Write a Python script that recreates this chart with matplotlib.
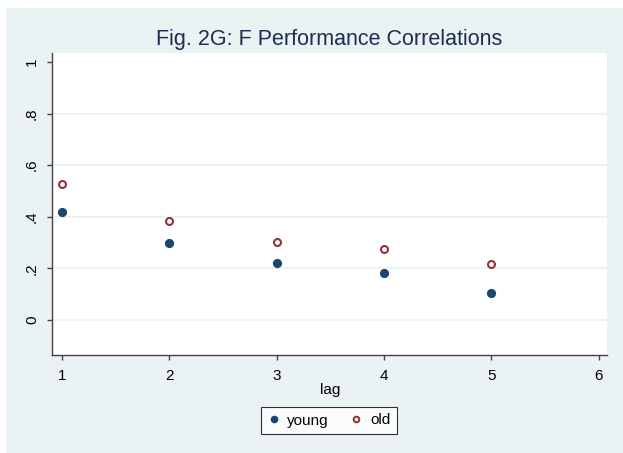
import matplotlib
matplotlib.use("Agg")
import matplotlib.pyplot as plt
from matplotlib.patches import Rectangle

plt.rcParams['font.family'] = ['Liberation Sans', 'DejaVu Sans']

# data
lag = [1, 2, 3, 4, 5]
young = [0.420, 0.297, 0.220, 0.182, 0.106]
old = [0.527, 0.383, 0.303, 0.276, 0.218]
yticks = [0, 0.2, 0.4, 0.6, 0.8, 1]
ytick_labels = ['0', '.2', '.4', '.6', '.8', '1']
xticks = [1, 2, 3, 4, 5, 6]

W, H = 623, 453
navy = '#1a476f'
maroon = '#90353b'
bg = '#eaf2f3'

fig = plt.figure(figsize=(W / 100, H / 100), dpi=100, facecolor='white')
# stata-like outer panel
fig.patches.append(Rectangle((6 / W, 0), 1, (H - 8) / H, transform=fig.transFigure,
                             facecolor=bg, edgecolor='none', zorder=-10))

ax = fig.add_axes([51.7 / W, (H - 355) / H, (607.3 - 51.7) / W, (355 - 52.7) / H])
ax.set_facecolor('white')

for yv in yticks[:-1]:
    ax.axhline(yv, color=bg, lw=1.3, zorder=0)

ax.plot(lag, young, 'o', color=navy, ms=5.6, mec=navy, ls='none', label='young', zorder=3)
ax.plot(lag, old, 'o', mfc='white', mec=maroon, mew=1.5, ms=5.0, ls='none', label='old', zorder=3)

ax.set_xlim(0.904, 6.08)
ax.set_ylim(-0.136, 1.036)
ax.set_xticks(xticks)
ax.set_yticks(yticks)
ax.set_yticklabels(ytick_labels, rotation=90, va='center')

for s in ['top', 'right']:
    ax.spines[s].set_visible(False)
for s in ['left', 'bottom']:
    ax.spines[s].set_color('#444444')
    ax.spines[s].set_linewidth(1.0)
ax.tick_params(axis='both', direction='out', length=3.6, width=1.0, color='#444444',
               labelsize=11, labelcolor='black')
ax.tick_params(axis='x', pad=6.5)
ax.tick_params(axis='y', pad=5.5)

fig.text(329.5 / W, (H - 45) / H, 'Fig. 2G: F Performance Correlations', ha='center',
         va='baseline', fontsize=15.5, color='#1e2d53')
fig.text(330 / W, (H - 390) / H, 'lag', ha='center', va='center', fontsize=11)

leg = fig.legend(loc='center', bbox_to_anchor=(329 / W, (H - 420.5) / H), ncol=2,
                 fontsize=11, frameon=True, fancybox=False, edgecolor='black',
                 handlelength=0.8, handletextpad=0.5, columnspacing=1.4,
                 borderpad=0.4, markerscale=0.8)
leg.get_frame().set_linewidth(0.8)

fig.savefig('out.png', dpi=100, facecolor=fig.get_facecolor())
